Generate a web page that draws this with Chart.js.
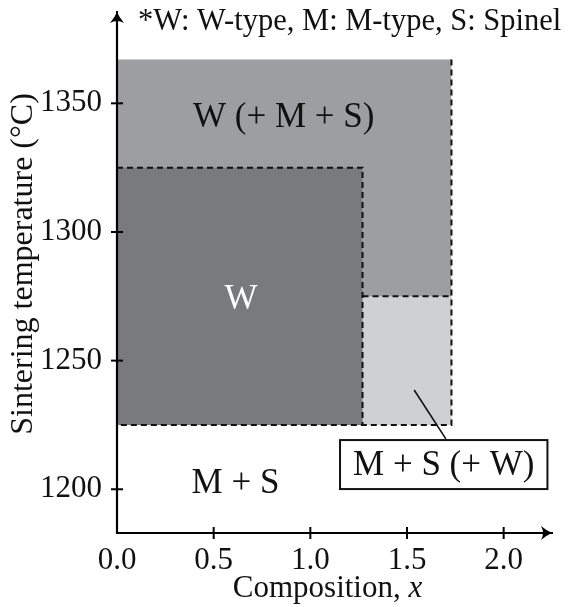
<!DOCTYPE html>
<html><head><meta charset="utf-8">
<script src="https://cdn.jsdelivr.net/npm/chart.js@4.4.0/dist/chart.umd.min.js"></script>
<style>html,body{margin:0;padding:0;background:#fff;}#wrap{width:573px;height:607px;}</style>
</head><body><div id="wrap"><canvas id="c" width="573" height="607"></canvas></div>
<script>
// ---- data ----
const xTicks = [0, 0.5, 1.0, 1.5, 2.0];
const yTicks = [1200, 1250, 1300, 1350];
const regionNames = ['W (+ M + S)', 'W', 'M + S (+ W)'];
const regionX0 = [0, 0, 1.27];
const regionX1 = [1.73, 1.27, 1.73];
const regionYBottom = [1225, 1225, 1225];
const regionYTop = [1367, 1325, 1275];
const outsideRegion = 'M + S';
const noteText = '*W: W-type, M: M-type, S: Spinel';
const xTitle = 'Composition, ';
const xTitleVar = 'x';
const yTitle = 'Sintering temperature (\u00B0C)';

// ---- styling / label placement ----
const FONT = '"Liberation Serif", "DejaVu Serif", serif';
const regionColors = ['#9d9ea2', '#797a7e', '#cfd0d4'];
const dash = [6, 4];
const labelPlaces = [
  {text: regionNames[0], x: 0.862, y: 1344.2, color: '#111', size: 35},
  {text: regionNames[1], x: 0.641, y: 1273.7, color: '#fff', size: 35},
  {text: outsideRegion, x: 0.613, y: 1202.3, color: '#111', size: 35}
];
const boxLabel = {text: regionNames[2], x: 1.69, y: 1209.6, size: 35};
const pointer = [{x: 1.537, y: 1238.6}, {x: 1.701, y: 1219.6}];

const datasets = [];
for (let i = 0; i < 3; i++) {
  datasets.push({
    type: 'line',
    data: [{x: regionX0[i], y: regionYTop[i]}, {x: regionX1[i], y: regionYTop[i]}],
    borderWidth: 0, borderColor: 'rgba(0,0,0,0)', backgroundColor: regionColors[i],
    fill: {value: regionYBottom[i]}, pointRadius: 0, order: 10 - i
  });
}
const dashedLines = [
  [{x: regionX1[0], y: regionYTop[0]}, {x: regionX1[0], y: regionYBottom[0]}, {x: regionX0[0], y: regionYBottom[0]}],
  [{x: regionX0[1], y: regionYTop[1]}, {x: regionX1[1], y: regionYTop[1]}, {x: regionX1[1], y: regionYBottom[1]}],
  [{x: regionX0[2], y: regionYTop[2]}, {x: regionX1[2], y: regionYTop[2]}]
];
dashedLines.forEach(d => datasets.push({
  type: 'line', data: d, borderColor: '#111', borderWidth: 2, borderDash: dash,
  fill: false, pointRadius: 0, order: 2, tension: 0
}));
datasets.push({
  type: 'line', data: pointer, borderColor: '#111', borderWidth: 1.6,
  fill: false, pointRadius: 0, order: 1
});

function drawArrow(ctx, x, y, angle) {
  ctx.save();
  ctx.translate(x, y);
  ctx.rotate(angle);
  ctx.beginPath();
  ctx.moveTo(0, 0);
  ctx.quadraticCurveTo(-5, -2, -11, -7);
  ctx.quadraticCurveTo(-7, 0, -11, 7);
  ctx.quadraticCurveTo(-5, 2, 0, 0);
  ctx.closePath();
  ctx.fillStyle = '#000';
  ctx.fill();
  ctx.restore();
}

const decor = {
  id: 'decor',
  afterDatasetsDraw(chart) {
    const ctx = chart.ctx;
    const xs = chart.scales.x, ys = chart.scales.y;
    const a = chart.chartArea;
    const x0 = xs.getPixelForValue(0);
    const yb = a.bottom;
    ctx.save();
    ctx.strokeStyle = '#000';
    ctx.lineWidth = 2.2;
    ctx.beginPath();
    ctx.moveTo(x0, yb); ctx.lineTo(a.right - 4, yb);
    ctx.moveTo(x0, yb); ctx.lineTo(x0, a.top + 4);
    ctx.stroke();
    ctx.lineWidth = 2;
    xs.ticks.forEach(t => {
      if (t.value === 0) return;
      const px = xs.getPixelForValue(t.value);
      ctx.beginPath(); ctx.moveTo(px, yb - 6); ctx.lineTo(px, yb + 6); ctx.stroke();
    });
    ys.ticks.forEach(t => {
      const py = ys.getPixelForValue(t.value);
      ctx.beginPath(); ctx.moveTo(x0 - 6, py); ctx.lineTo(x0 + 6, py); ctx.stroke();
    });
    drawArrow(ctx, a.right, yb, 0);
    drawArrow(ctx, x0, a.top, -Math.PI / 2);

    ctx.textAlign = 'center';
    ctx.textBaseline = 'middle';
    labelPlaces.forEach(l => {
      ctx.font = l.size + 'px ' + FONT;
      ctx.fillStyle = l.color;
      ctx.fillText(l.text, xs.getPixelForValue(l.x), ys.getPixelForValue(l.y));
    });
    ctx.font = boxLabel.size + 'px ' + FONT;
    const bx = xs.getPixelForValue(boxLabel.x), by = ys.getPixelForValue(boxLabel.y);
    const w = ctx.measureText(boxLabel.text).width;
    ctx.fillStyle = '#fff';
    ctx.fillRect(bx - w / 2 - 13, by - 24.5, w + 26, 49);
    ctx.strokeStyle = '#111'; ctx.lineWidth = 2;
    ctx.strokeRect(bx - w / 2 - 13, by - 24.5, w + 26, 49);
    ctx.fillStyle = '#111';
    ctx.fillText(boxLabel.text, bx, by + 1);

    ctx.textAlign = 'left';
    ctx.textBaseline = 'alphabetic';
    ctx.font = '30.5px ' + FONT;
    ctx.fillText(noteText, 138, 30);

    ctx.font = '31px ' + FONT;
    const w1 = ctx.measureText(xTitle).width;
    ctx.font = 'italic 31px ' + FONT;
    const w2 = ctx.measureText(xTitleVar).width;
    const cx = (a.left + a.right) / 2 - 7;
    let sx = cx - (w1 + w2) / 2;
    ctx.font = '31px ' + FONT;
    ctx.fillText(xTitle, sx, 597);
    ctx.font = 'italic 31px ' + FONT;
    ctx.fillText(xTitleVar, sx + w1, 597);

    ctx.save();
    ctx.translate(32, 264);
    ctx.rotate(-Math.PI / 2);
    ctx.textAlign = 'center';
    ctx.font = '32px ' + FONT;
    ctx.fillText(yTitle, 0, 0);
    ctx.restore();
    ctx.restore();
  }
};

new Chart(document.getElementById('c'), {
  type: 'scatter',
  data: {datasets},
  options: {
    responsive: false, animation: false, devicePixelRatio: 1,
    layout: {padding: {top: 12, right: 21, left: 0, bottom: 0}},
    plugins: {legend: {display: false}, tooltip: {enabled: false}},
    scales: {
      x: {
        type: 'linear', min: 0, max: 2.25,
        afterBuildTicks: s => { s.ticks = xTicks.map(v => ({value: v})); },
        afterFit: s => { s.height = 74; s.paddingLeft = 0; s.paddingRight = 0; },
        grid: {display: false, drawTicks: false, tickLength: 0},
        border: {display: true, color: '#000', width: 2},
        ticks: {font: {family: FONT, size: 31}, color: '#111', padding: 9,
          maxRotation: 0, autoSkip: false, callback: v => Number(v).toFixed(1)}
      },
      y: {
        type: 'linear', min: 1183, max: 1385.5,
        afterBuildTicks: s => { s.ticks = yTicks.map(v => ({value: v})); },
        afterFit: s => { s.width = 117; s.paddingTop = 0; s.paddingBottom = 0; },
        grid: {display: false, drawTicks: false, tickLength: 0},
        border: {display: true, color: '#000', width: 2},
        ticks: {font: {family: FONT, size: 31}, color: '#111', padding: 15, autoSkip: false,
          callback: v => String(v)}
      }
    }
  },
  plugins: [decor]
});
</script></body></html>
